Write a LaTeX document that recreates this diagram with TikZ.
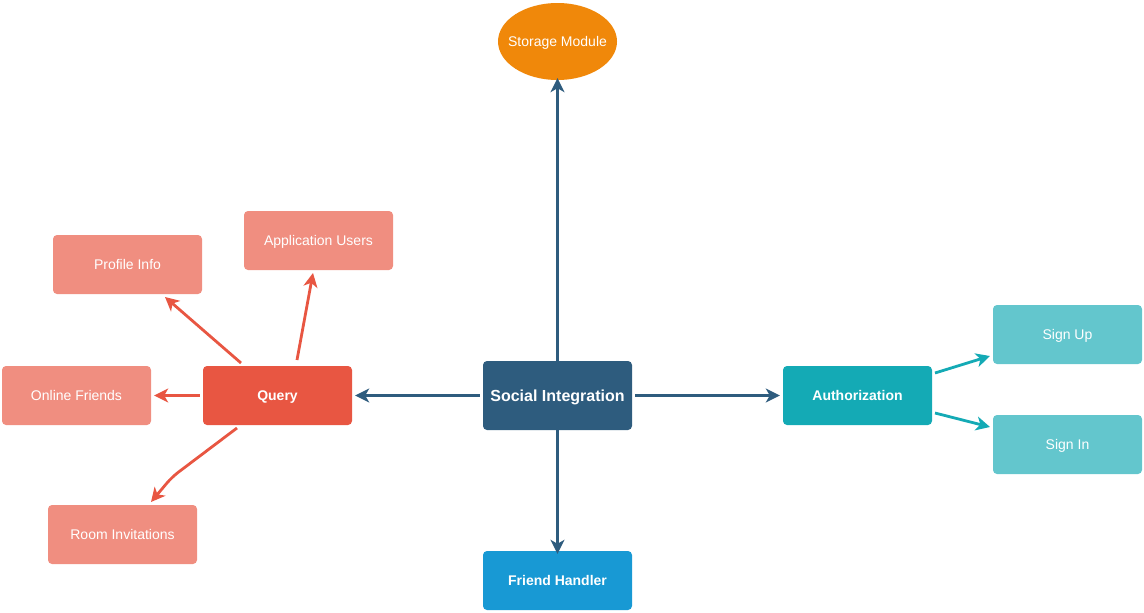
\documentclass[tikz,border=0pt]{standalone}
\usepackage{fontspec}
\setmainfont{Liberation Sans}
\usetikzlibrary{arrows.meta,shapes.geometric}
\definecolor{cSI}{HTML}{2E5C7E}
\definecolor{cStore}{HTML}{F0880A}
\definecolor{cQuery}{HTML}{E85642}
\definecolor{cQsub}{HTML}{F08E80}
\definecolor{cAuth}{HTML}{14AAB5}
\definecolor{cAsub}{HTML}{63C6CD}
\definecolor{cFH}{HTML}{1899D4}
\tikzset{
  box/.style={rectangle, rounded corners=4pt, minimum width=149pt, minimum height=59pt, inner sep=0pt, text=white, text height=11pt, text depth=1pt, font=\fontsize{14}{16}\selectfont},
  boldbox/.style={box, font=\fontsize{14}{16}\selectfont\bfseries},
  conn/.style={line width=2.8pt, -{Stealth[length=14pt,width=14pt,inset=4pt]}},
}
\begin{document}
\begin{tikzpicture}[x=1pt,y=-1pt]
\useasboundingbox (0,0) rectangle (1144,613);
\node[ellipse, fill=cStore, minimum width=119pt, minimum height=77pt, inner xsep=-12pt, inner ysep=0pt, text=white, text height=11pt, text depth=1pt, font=\fontsize{14}{16}\selectfont] (store) at (557.5,41.5) {Storage Module};
\node[boldbox, fill=cSI, minimum height=69pt, text height=12pt, font=\fontsize{16}{18}\selectfont\bfseries] (si) at (557.5,395.5) {Social Integration};
\node[boldbox, fill=cQuery] (query) at (277.5,395.5) {Query};
\node[boldbox, fill=cAuth] (auth) at (857.5,395.5) {Authorization};
\node[boldbox, fill=cFH] (fh) at (557.5,580.5) {Friend Handler};
\node[box, fill=cQsub] (profile) at (127.5,264.5) {Profile Info};
\node[box, fill=cQsub] (appusers) at (318.5,240.5) {Application Users};
\node[box, fill=cQsub] (online) at (76.5,395.5) {Online Friends};
\node[box, fill=cQsub] (room) at (122.5,534.5) {Room Invitations};
\node[box, fill=cAsub] (signup) at (1067.5,334.5) {Sign Up};
\node[box, fill=cAsub] (signin) at (1067.5,444.5) {Sign In};

\draw[conn, cSI] ([yshift=-3]si.north) -- ([yshift=2]store.south);
\draw[conn, cSI] ([xshift=-3]si.west) -- ([xshift=3]query.east);
\draw[conn, cSI] ([xshift=3]si.east) -- ([xshift=-3]auth.west);
\draw[conn, cSI] ([yshift=3]si.south) -- ([yshift=-3]fh.north);

\coordinate (qp) at (241,363);
\coordinate (qa) at (297,360);
\coordinate (qr) at (237,428);
\coordinate (bend) at (172,477);
\coordinate (pe) at (165,297);
\coordinate (ae) at (313,273);
\coordinate (re) at (151,502);
\draw[conn, cQuery] (qp) -- (pe);
\draw[conn, cQuery] (qa) -- (ae);
\draw[conn, cQuery] ([xshift=-3]query.west) -- ([xshift=3]online.east);
\draw[conn, cQuery, rounded corners=8pt] (qr) -- (bend) -- (re);

\coordinate (au1) at (935,373);
\coordinate (au2) at (935,413);
\coordinate (sue) at (990,356);
\coordinate (sie) at (990,427);
\draw[conn, cAuth] (au1) -- (sue);
\draw[conn, cAuth] (au2) -- (sie);
\end{tikzpicture}
\end{document}
